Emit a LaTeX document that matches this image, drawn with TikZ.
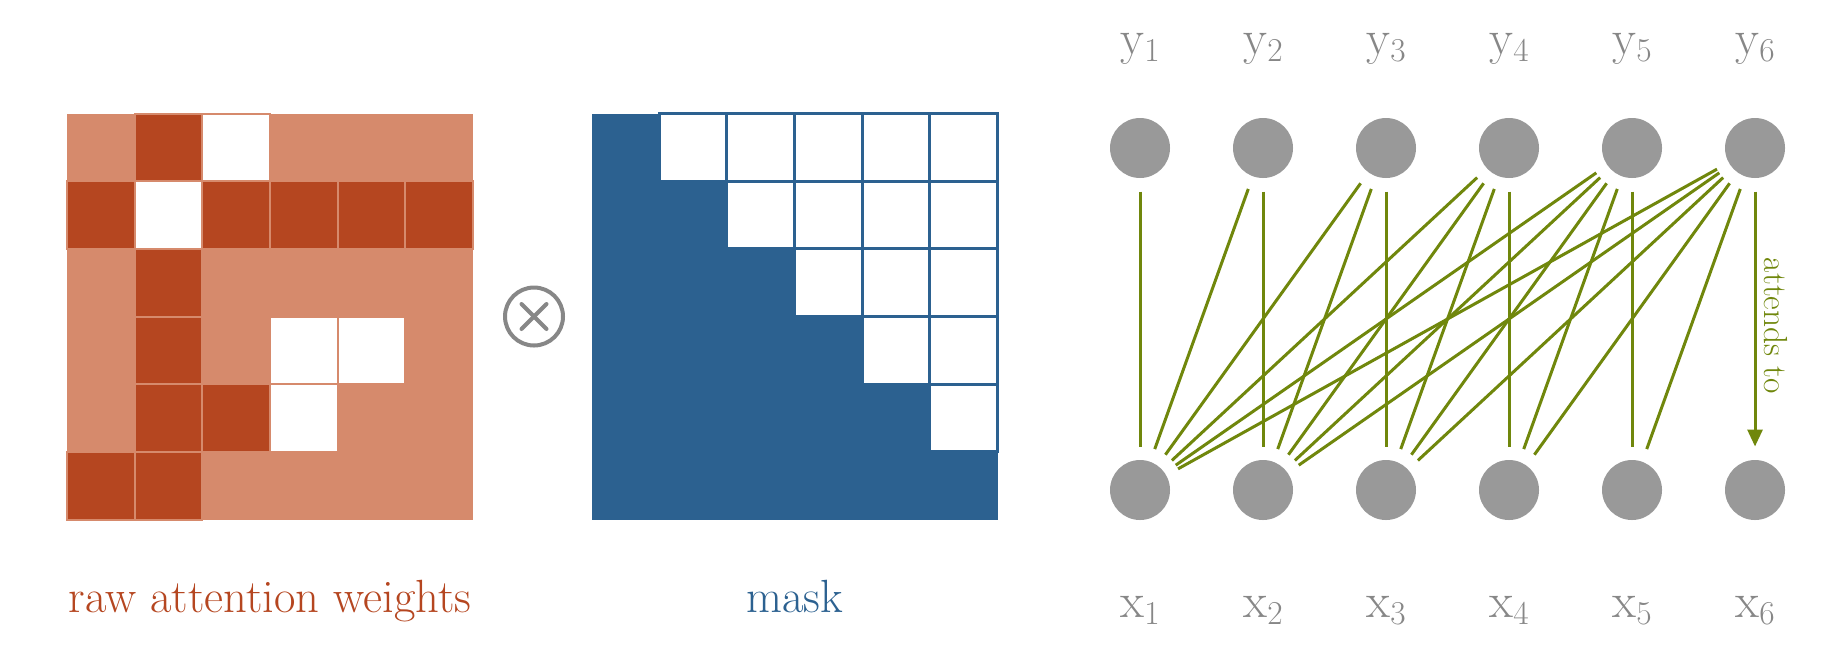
\documentclass[tikz,border=0pt]{standalone}
\usepackage{xcolor}
\usepackage{tikz}
\usetikzlibrary{arrows.meta,positioning,calc}

\definecolor{rawdark}{RGB}{181,70,32}
\definecolor{rawlight}{RGB}{214,138,108}
\definecolor{maskblue}{RGB}{44,97,144}
\definecolor{attgreen}{RGB}{112,135,12}
\definecolor{unitgray}{RGB}{153,153,153}
\definecolor{txtgray}{RGB}{135,135,135}

% token label with a lowered index
\newcommand{\idx}[2]{#1\raisebox{-0.16em}{\fontsize{19}{20}\selectfont #2}}

\begin{document}
\begin{tikzpicture}[
  mat/.style={minimum size=8.12cm, inner sep=0pt, outer sep=0pt},
  hot/.style={fill=rawdark, draw=rawlight, line width=0.04cm},
  blank/.style={fill=white, draw=rawlight, line width=0.04cm},
  open/.style={fill=white, draw=maskblue, line width=0.06cm},
  opnode/.style={circle, draw=txtgray, line width=0.08cm, minimum size=1.16cm, inner sep=0pt},
  opx/.style={draw=txtgray, line width=0.08cm, line cap=round},
  matlbl/.style={font=\fontsize{26.5}{30}\selectfont},
  unit/.style={circle, fill=unitgray, minimum size=1.2cm, inner sep=0pt, outer sep=0.27cm},
  toklbl/.style={text=txtgray, font=\fontsize{28}{30}\selectfont, inner sep=0pt, anchor=base},
  att/.style={draw=attgreen, line width=0.06cm},
  arr/.style={att, -{Triangle[width=0.3cm,length=0.34cm]}},
  attlbl/.style={text=attgreen, font=\fontsize{19}{21}\selectfont, inner sep=0pt}
]
\useasboundingbox (0,0) rectangle (36.58,-12.92);

% raw attention weights
\node[mat, fill=rawlight] (raw) at (5.40,-6.33) {};
\foreach \c/\r in {2/1,1/2,3/2,4/2,5/2,6/2,2/3,2/4,2/5,3/5,1/6,2/6}
  \draw[hot] ($(raw.north west)+({(\c-1)*1.3533},{-(\r-1)*1.3533})$) rectangle +(1.3533,-1.3533);
\foreach \c/\r in {3/1,2/2,4/4,5/4,4/5}
  \draw[blank] ($(raw.north west)+({(\c-1)*1.3533},{-(\r-1)*1.3533})$) rectangle +(1.3533,-1.3533);
\node[matlbl, text=rawdark, below=1.09cm of raw] (rawlbl) {raw attention weights};

% times
\node[opnode, right=0.6cm of raw] (op) {};
\draw[opx] ($(op)+(-0.25,0.25)$) -- ($(op)+(0.25,-0.25)$);
\draw[opx] ($(op)+(-0.25,-0.25)$) -- ($(op)+(0.25,0.25)$);

% mask
\node[mat, fill=maskblue, right=0.53cm of op] (mask) {};
\foreach \r [evaluate=\r as \n using int(\r+1)] in {1,...,5}
  \foreach \c in {\n,...,6}
    \draw[open] ($(mask.north west)+({(\c-1)*1.3533},{-(\r-1)*1.3533})$) rectangle +(1.3533,-1.3533);
\node[matlbl, text=maskblue, below=1.09cm of mask] (masklbl) {mask};

% outputs y and inputs x
\foreach \i in {1,...,6} {
  \node[unit] (y\i) at ({22.8+(\i-1)*2.46},-2.96) {};
  \node[unit] (x\i) at ({22.8+(\i-1)*2.46},-9.80) {};
  \node[toklbl] (ly\i) at ({22.8+(\i-1)*2.46},-1.08) {\idx{y}{\i}};
  \node[toklbl] (lx\i) at ({22.8+(\i-1)*2.46},-12.34) {\idx{x}{\i}};
}

% causal links
\foreach \i in {1,...,6} {
  \pgfmathtruncatemacro{\last}{min(\i,5)}
  \foreach \j in {1,...,\last}
    \draw[att] (y\i) -- (x\j);
}
\draw[arr] (y6) -- (x6);
\node[attlbl, rotate=-90, anchor=south] (attends) at ($(y6)!0.52!(x6)+(0.17,0)$) {attends to};
\end{tikzpicture}
\end{document}
